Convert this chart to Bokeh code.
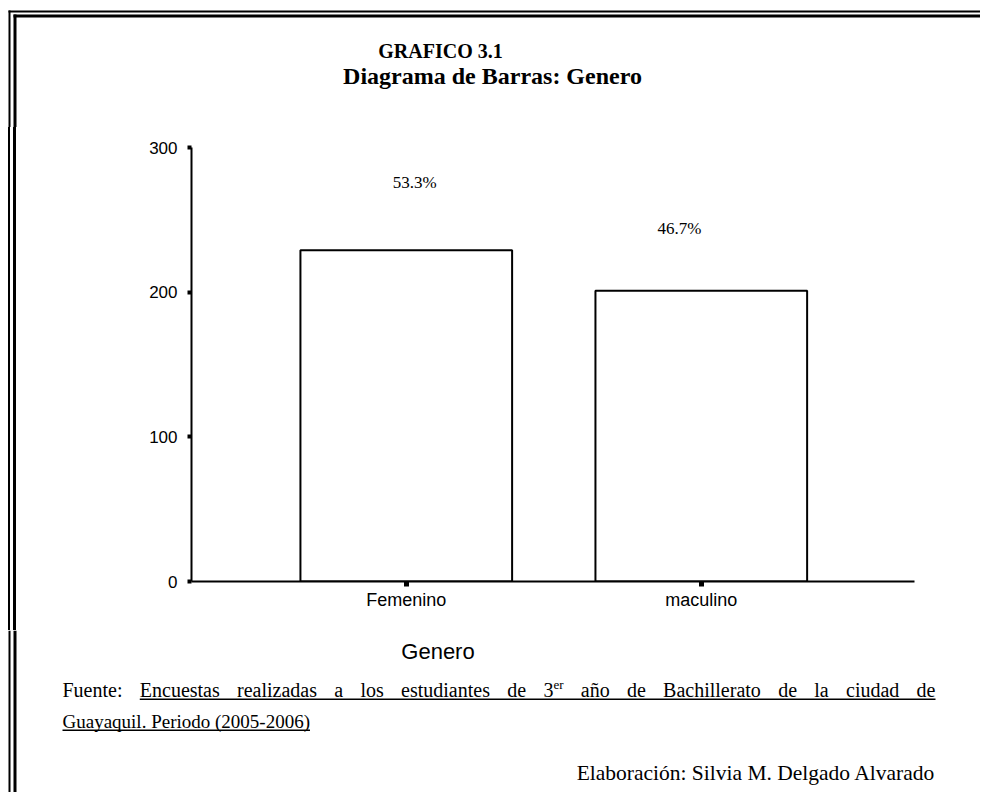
from bokeh.plotting import figure
from bokeh.layouts import column, row
from bokeh.models import Range1d, FixedTicker, LabelSet, ColumnDataSource, Div
from bokeh.core.properties import value
from bokeh.embed import file_html
from bokeh.resources import INLINE

# ---------------- data ----------------
categories = ["Femenino", "maculino"]
counts = [229, 201]
pct_labels = ["53.3%", "46.7%"]
y_ticks = [0, 100, 200, 300]

title_line1 = "GRAFICO 3.1"
title_line2 = "Diagrama de Barras: Genero"
x_title = "Genero"
source_words = ["Fuente:", "Encuestas", "realizadas", "a", "los", "estudiantes", "de", "3er",
                "año", "de", "Bachillerato", "de", "la", "ciudad", "de"]
source_line2 = "Guayaquil. Periodo (2005-2006)"
credit = "Elaboración: Silvia M. Delgado Alvarado"

# ---------------- layout (page pixels) ----------------
W, H = 980, 792
TOP_H = 127          # title band
MID_B = 630          # end of chart band
STRIP = 20           # left strip next to chart (border lines)
FL, FR, FT, FB = 191, 914, 147, 581  # chart frame edges on page
SERIF = "Liberation Serif"
SANS = "Liberation Sans"


def blank(w, h, y0):
    """Figure whose frame fills it; data units = page pixels (y down)."""
    f = figure(width=w, height=h, output_backend="svg", toolbar_location=None,
               x_range=Range1d(0, w), y_range=Range1d(y0 + h, y0),
               x_axis_location=None, y_axis_location=None,
               min_border=0, min_border_left=0, min_border_right=0,
               min_border_top=0, min_border_bottom=0)
    f.outline_line_color = None
    f.grid.grid_line_color = None
    f.background_fill_color = "white"
    f.border_fill_color = "white"
    return f


def border_left(f, y0, y1):
    f.quad(left=[8, 13], right=[10, 16], top=[max(y0, 10), max(y0, 14)], bottom=[y1, y1],
           fill_color="black", line_color=None)


def txt(f, xs, ys, texts, size, font=SERIF, style="normal", align="left"):
    s = ColumnDataSource(dict(x=xs, y=ys, t=texts))
    f.add_layout(LabelSet(x="x", y="y", text="t", source=s,
                          text_font=value(font), text_font_size=value(f"{size}px"),
                          text_font_style=value(style),
                          text_align=value(align), text_baseline=value("alphabetic"),
                          text_color="black"))


# ---------- title band ----------
top = blank(W, TOP_H, 0)
top.quad(left=[8, 13], right=[W, W], top=[10, 14], bottom=[12, 17],
         fill_color="black", line_color=None)
border_left(top, 0, TOP_H)
txt(top, [440], [57], [title_line1], 20, style="bold", align="center")
txt(top, [492], [83], [title_line2], 24, style="bold", align="center")

# ---------- chart band ----------
band_h = MID_B - TOP_H
strip = Div(width=STRIP, height=band_h, margin=(0, 0, 0, 0),
            text=(f'<div style="position:relative;width:{STRIP}px;height:{band_h}px;">'
                  f'<div style="position:absolute;left:8px;top:0;width:2px;height:{band_h}px;background:#000;"></div>'
                  f'<div style="position:absolute;left:13px;top:0;width:3px;height:{band_h}px;background:#000;"></div>'
                  '</div>'))

x_pos = [i + 1 for i in range(len(categories))]
XR = (0.272, 2.7227)
p = figure(width=W - STRIP, height=band_h, output_backend="svg", toolbar_location=None,
           x_range=Range1d(*XR), y_range=Range1d(0, 300),
           min_border_left=FL - STRIP, min_border_right=W - FR,
           min_border_top=FT - TOP_H, min_border_bottom=MID_B - FB)
p.background_fill_color = "white"
p.border_fill_color = "white"
p.outline_line_color = None
p.xgrid.grid_line_color = None
p.ygrid.grid_line_color = None

p.vbar(x=x_pos, top=counts, bottom=0, width=0.7175,
       fill_color="white", line_color="black", line_width=2)

src = ColumnDataSource(dict(x=x_pos, y=counts, t=pct_labels,
                            dx=[8.5, -21.8], dy=[62.6, 56.7]))
p.add_layout(LabelSet(x="x", y="y", text="t", source=src, x_offset="dx", y_offset="dy",
                      text_align=value("center"), text_baseline=value("alphabetic"),
                      text_font=value(SERIF), text_font_size=value("17px"),
                      text_color="black"))

xa = p.xaxis[0]
xa.ticker = FixedTicker(ticks=x_pos)
xa.major_label_overrides = {x: c for x, c in zip(x_pos, categories)}
xa.axis_line_width = 2
xa.axis_line_color = "black"
xa.major_tick_in = 0
xa.major_tick_out = 5
xa.major_tick_line_width = 5
xa.major_tick_line_color = "black"
xa.minor_tick_line_color = None
xa.major_label_text_font = SANS
xa.major_label_text_font_size = "18px"
xa.major_label_text_color = "black"
xa.major_label_standoff = 3

ya = p.yaxis[0]
ya.ticker = FixedTicker(ticks=y_ticks)
ya.axis_line_width = 2
ya.axis_line_color = "black"
ya.major_tick_in = 0
ya.major_tick_out = 4
ya.major_tick_line_width = 4
ya.major_tick_line_color = "black"
ya.minor_tick_line_color = None
ya.major_label_text_font = SANS
ya.major_label_text_font_size = "17px"
ya.major_label_text_color = "black"
ya.major_label_standoff = 10

# ---------- footer band ----------
bot = blank(W, H - MID_B, MID_B)
border_left(bot, MID_B, H)
txt(bot, [437.5], [658], [x_title], 22, font=SANS, align="center")

# Times New Roman advance widths (per 1000 em) used to justify the source line
TW = {' ': 250, ':': 278, '.': 250, '(': 333, ')': 333, '-': 333,
      'a': 444, 'b': 500, 'c': 444, 'd': 500, 'e': 444, 'f': 333, 'g': 500, 'h': 500,
      'i': 278, 'j': 278, 'k': 500, 'l': 278, 'm': 778, 'n': 500, 'o': 500, 'p': 500,
      'q': 500, 'r': 333, 's': 389, 't': 278, 'u': 500, 'v': 500, 'w': 722, 'x': 500,
      'y': 500, 'z': 444, 'ñ': 500, 'ó': 500, 'A': 722, 'B': 667, 'C': 667, 'D': 722,
      'E': 611, 'F': 556, 'G': 722, 'M': 889, 'P': 556, 'S': 556}


def tw(s, size):
    return sum(TW.get(c, 500) for c in s) * size / 1000.0


FS = 20
FS2 = 19
FS3 = 21.5
SUP = 13
x0, x1 = 62, 935
base1, base2, base3 = 696, 727, 779

widths = [tw("3", FS) + tw("er", SUP) if w == "3er" else tw(w, FS) for w in source_words]
gap = (x1 - x0 - sum(widths)) / (len(source_words) - 1)
wx, wy, wt = [], [], []
sx, sy, st = [], [], []
x = x0
ul_start = None
for i, (w, ww) in enumerate(zip(source_words, widths)):
    if i == 1:
        ul_start = x
    if w == "3er":
        wx.append(x); wy.append(base1); wt.append("3")
        sx.append(x + tw("3", FS)); sy.append(base1 - 8); st.append("er")
    else:
        wx.append(x); wy.append(base1); wt.append(w)
    x += ww + gap
txt(bot, wx, wy, wt, FS)
txt(bot, sx, sy, st, SUP)
txt(bot, [x0], [base2], [source_line2], FS2)
txt(bot, [x1], [base3], [credit], FS3, align="right")
bot.quad(left=[ul_start, x0], right=[x1, x0 + tw(source_line2, FS2)],
         top=[base1 + 2, base2 + 2], bottom=[base1 + 3.5, base2 + 3.5],
         fill_color="black", line_color=None)

layout = column(top, row(strip, p, spacing=0), bot, spacing=0)
open("out.html", "w").write(file_html(layout, INLINE))
